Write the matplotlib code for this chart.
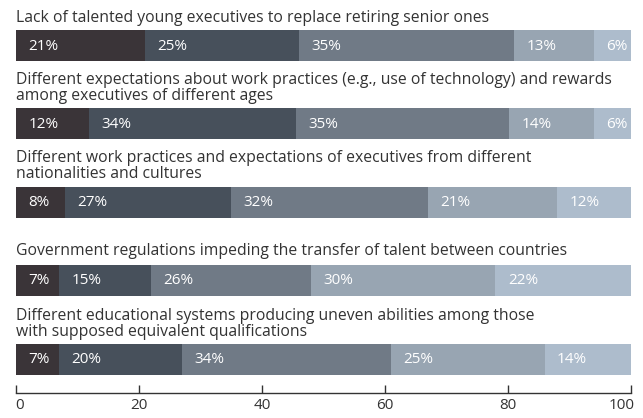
import matplotlib
matplotlib.use("Agg")
import matplotlib.pyplot as plt
from matplotlib.transforms import offset_copy
import numpy as np

plt.rcParams['font.family'] = ['Open Sans', 'DejaVu Sans']

titles = [
    "Lack of talented young executives to replace retiring senior ones",
    "Different expectations about work practices (e.g., use of technology) and rewards\namong executives of different ages",
    "Different work practices and expectations of executives from different\nnationalities and cultures",
    "Government regulations impeding the transfer of talent between countries",
    "Different educational systems producing uneven abilities among those\nwith supposed equivalent qualifications",
]
row1 = [21, 25, 35, 13, 6]
row2 = [12, 34, 35, 14, 6]
row3 = [8, 27, 32, 21, 12]
row4 = [7, 15, 26, 30, 22]
row5 = [7, 20, 34, 25, 14]
rows = [row1, row2, row3, row4, row5]
xticks = [0, 20, 40, 60, 80, 100]

colors = ["#3a3438", "#47505b", "#707a86", "#98a5b2", "#adbccc"]

# layout (pixel-based vertical positions)
W, H = 643, 418
bar_centers = [45.5, 123.5, 202.5, 280.5, 359.0]
bar_h = 31
title_baselines = [22.3, 84.0, 162.3, 255.0, 320.0]
line_step = 16.0
axis_y = 392.7

fig = plt.figure(figsize=(W / 100, H / 100), dpi=100)
x0, x1 = 16, 630.7
ax = fig.add_axes([x0 / W, (H - axis_y) / H, (x1 - x0) / W, axis_y / H])
ax.set_xlim(0, 100)
ax.set_ylim(axis_y, 0)

for vals, yc, title, tb in zip(rows, bar_centers, titles, title_baselines):
    v = np.array(vals, dtype=float)
    widths = v / v.sum() * 100
    lefts = np.concatenate([[0], np.cumsum(widths)[:-1]])
    ax.barh(yc, widths, left=lefts, height=bar_h, color=colors, linewidth=0)
    for l, w, val in zip(lefts, widths, vals):
        ax.text(l + 2.0, yc + 0.5, f"{val}%", color="white", fontsize=11,
                va="center", ha="left")
    for i, line in enumerate(title.split("\n")):
        ax.text(0, tb + i * line_step, line, fontsize=11.3, color="#333333",
                va="baseline", ha="left")

for s in ["left", "right", "top"]:
    ax.spines[s].set_visible(False)
ax.spines["bottom"].set_color("#333333")
ax.spines["bottom"].set_linewidth(1.0)
ax.set_yticks([])
ax.set_xticks(xticks)
ax.set_xticklabels([str(t) for t in xticks])
ax.tick_params(axis="x", direction="in", length=5.5, width=1.0, color="#333333",
               labelsize=11, labelcolor="#333333", pad=4)
labels = ax.get_xticklabels()
labels[0].set_horizontalalignment("left")
labels[0].set_transform(offset_copy(labels[0].get_transform(), fig=fig, x=-1, units="dots"))
labels[-1].set_horizontalalignment("right")
labels[-1].set_transform(offset_copy(labels[-1].get_transform(), fig=fig, x=4, units="dots"))

fig.savefig("out.png", dpi=100)
